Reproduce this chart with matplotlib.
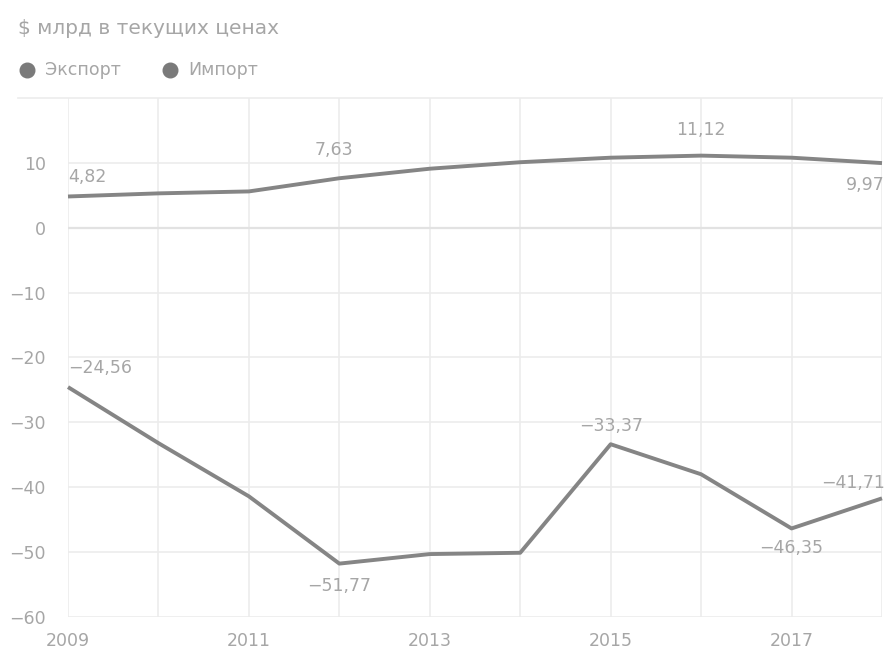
import matplotlib
matplotlib.use("Agg")
import matplotlib.pyplot as plt
from matplotlib.lines import Line2D
from matplotlib.transforms import offset_copy

years = [2009, 2010, 2011, 2012, 2013, 2014, 2015, 2016, 2017, 2018]
export_vals = [4.82, 5.3, 5.6, 7.63, 9.1, 10.1, 10.8, 11.12, 10.8, 9.97]
import_vals = [-24.56, -33.2, -41.4, -51.77, -50.3, -50.1, -33.37, -38.0, -46.35, -41.71]
xtick_labels = [2009, 2011, 2013, 2015, 2017]
ytick_vals = [-60, -50, -40, -30, -20, -10, 0, 10]
title = "$ млрд в текущих ценах"
series_names = ["Экспорт", "Импорт"]

# labelled points: (index, text, dx_px, dy_px, ha)
export_labels = [(0, "4,82", 0, 19, "left"), (3, "7,63", -5, 28, "center"),
                 (7, "11,12", 0, 26, "center"), (9, "9,97", 3, -22, "right")]
import_labels = [(0, "−24,56", 0, 19, "left"), (3, "−51,77", 0, -22, "center"),
                 (6, "−33,37", 0, 18, "center"), (8, "−46,35", 0, -20, "center"),
                 (9, "−41,71", 3, 15, "right")]

plt.rcParams['font.family'] = ['DejaVu Sans']
W, H = 885, 649
fig = plt.figure(figsize=(W / 100, H / 100), dpi=100)
left, right, top, bottom = 68, 882, 98, 617
ax = fig.add_axes([left / W, 1 - bottom / H, (right - left) / W, (bottom - top) / H])

line_color = "#858585"
text_color = "#a6a6a6"
grid_color = "#ececec"

ax.set_xlim(2009, 2018)
ax.set_ylim(-60, 20)
ax.plot(years, export_vals, color=line_color, lw=2.8, solid_capstyle='butt', zorder=3, clip_on=False)
ax.plot(years, import_vals, color=line_color, lw=2.8, solid_capstyle='butt', zorder=3, clip_on=False)

for y in years:
    ax.axvline(y, color=grid_color, lw=1.2, zorder=1)
for v in ytick_vals:
    ax.axhline(v, color="#e2e2e2" if v == 0 else grid_color, lw=1.6 if v == 0 else 1.2, zorder=1)
fig.add_artist(Line2D([18 / W, right / W], [1 - top / H, 1 - top / H], color=grid_color, lw=1.2))

for s in ax.spines.values():
    s.set_visible(False)
ax.set_yticks(ytick_vals)
ax.set_yticklabels([str(v).replace("-", "−") for v in ytick_vals])
ax.set_xticks(xtick_labels)
ax.set_xticklabels([str(v) for v in xtick_labels])
ax.tick_params(axis='both', length=0, colors=text_color, labelsize=12.5)
ax.tick_params(axis='y', pad=16)
ax.tick_params(axis='x', pad=11)

for vals, labs in ((export_vals, export_labels), (import_vals, import_labels)):
    for i, txt, dx, dy, ha in labs:
        tr = offset_copy(ax.transData, fig=fig, x=dx, y=dy, units='dots')
        ax.text(years[i], vals[i], txt, transform=tr, ha=ha, va='center',
                color=text_color, fontsize=12.5, clip_on=False, zorder=4)

fig.text(18 / W, 1 - 28 / H, title, color=text_color, fontsize=14.5, ha='left', va='center')
for xc, name in ((27, series_names[0]), (170, series_names[1])):
    fig.add_artist(Line2D([xc / W], [1 - 70 / H], marker='o', markersize=10.5,
                          color="#7a7a7a", linestyle='none'))
    fig.text((xc + 18) / W, 1 - 70 / H, name, color=text_color, fontsize=12.5, ha='left', va='center')

fig.savefig("out.png", dpi=100, facecolor="white")
